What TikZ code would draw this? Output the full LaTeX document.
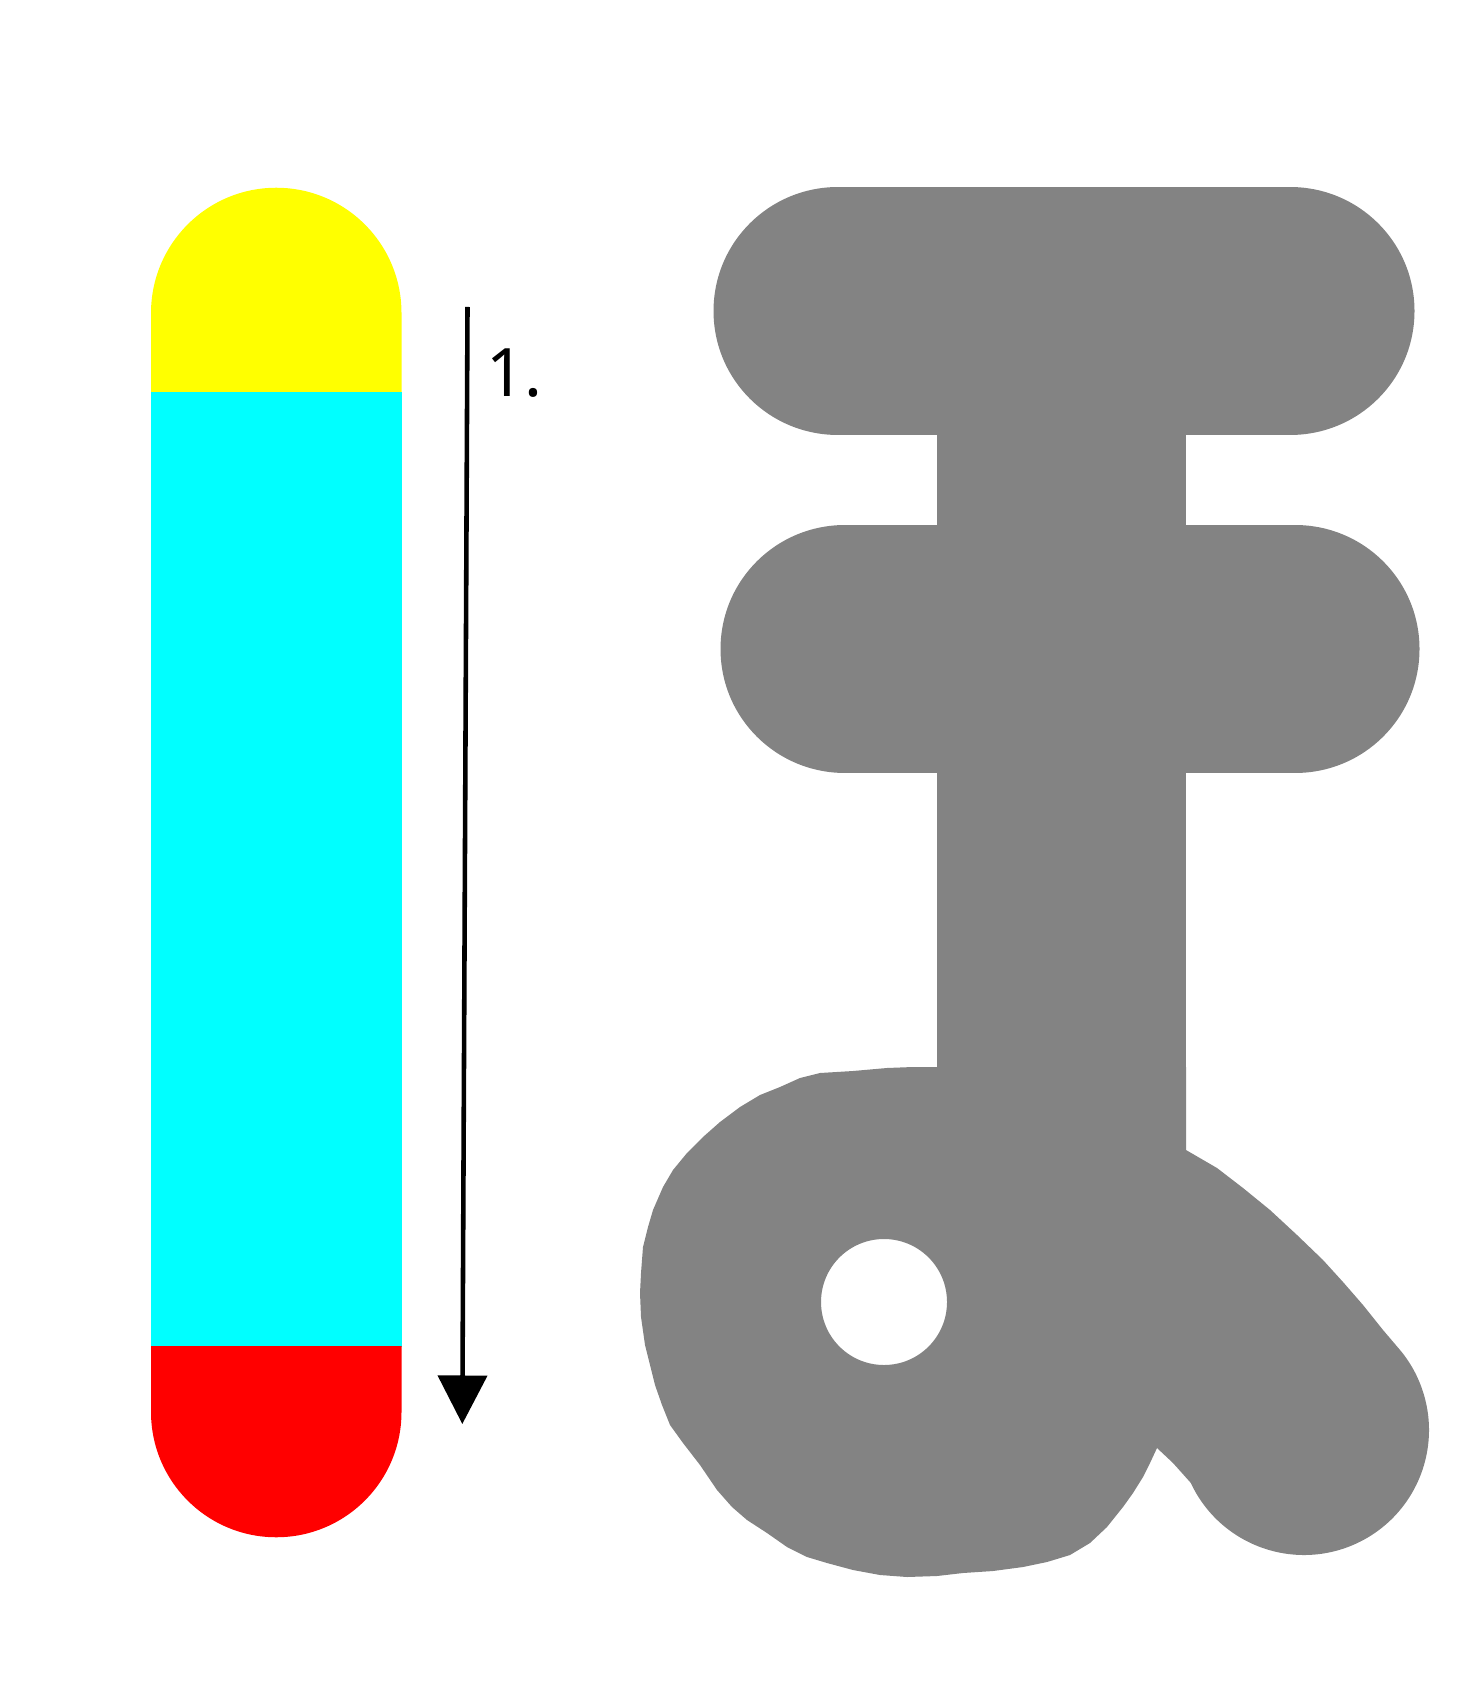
\documentclass[tikz,border=0pt]{standalone}
\usepackage{fontspec}
\usepackage{tikz}
\usetikzlibrary{arrows.meta, positioning}
\newfontfamily\labelfont{Noto Sans}
\definecolor{inkgray}{RGB}{131,131,131}
\definecolor{capyellow}{RGB}{255,255,0}
\definecolor{barcyan}{RGB}{0,255,255}
\definecolor{capred}{RGB}{255,0,0}

\begin{document}
\begin{tikzpicture}[
    x=0.01cm, y=-0.01cm,
    penline/.style={draw=inkgray, line width=70.8pt},
    inkfill/.style={fill=inkgray, even odd rule},
    orderarrow/.style={-{Triangle[length=13.8pt, width=13.9pt]}, line width=1.3pt, black},
    ordernum/.style={font=\labelfont\fontsize{19pt}{22pt}\selectfont, anchor=base west, inner sep=0pt},
]
  \useasboundingbox (0,0) rectangle (1474,1701);

  % Left: stroke guide bar
  \fill[capyellow] (151,393) -- (151,313) arc[start angle=180, end angle=360, radius=125.25] -- (401.5,393) -- cycle;
  \fill[barcyan] (151,392) rectangle (401.5,1347);
  \fill[capred] (151,1346) -- (151,1412) arc[start angle=180, end angle=0, radius=125.25] -- (401.5,1346) -- cycle;

  % Stroke direction
  \coordinate (start) at (467.5,307);
  \coordinate (tip) at (462.3,1424);
  \draw[orderarrow] (start) -- (tip);
  \node[ordernum] (num) at (486,397) {1.};

  % Right: character strokes
  \draw[penline, line cap=round] (838,311) -- (1290,311);
  \draw[penline, line cap=round] (845,649) -- (1295,649);
  \draw[penline, line cap=butt] (1061,311) -- (1061,1150);
  \path[inkfill] (936,1067) -- (913,1067) -- (887,1068) -- (853,1071) -- (820,1073) -- (800,1078)
    -- (780,1087) -- (760,1095) -- (740,1107) -- (720,1122) -- (703,1137) -- (687,1153)
    -- (673,1170) -- (663,1187) -- (653,1210) -- (648,1227) -- (643,1247) -- (641,1273)
    -- (640,1293) -- (641,1317) -- (645,1345) -- (650,1365) -- (655,1385) -- (662,1405)
    -- (670,1425) -- (683,1443) -- (700,1465) -- (717,1490) -- (732,1507) -- (747,1520)
    -- (767,1533) -- (787,1547) -- (807,1557) -- (827,1563) -- (853,1570) -- (880,1575)
    -- (907,1577) -- (937,1576) -- (963,1573) -- (993,1571) -- (1023,1567) -- (1047,1562)
    -- (1070,1555) -- (1090,1543) -- (1107,1527) -- (1123,1507) -- (1133,1493) -- (1143,1477)
    -- (1150,1463) -- (1157,1448) -- (1173,1463) -- (1190.7,1482.8)
    arc[start angle=155, end angle=-39, radius=125]
    -- (1383,1330) -- (1363,1305) -- (1343,1282) -- (1323,1260) -- (1297,1235) -- (1270,1210)
    -- (1243,1188) -- (1217,1168) -- (1186,1150) -- (1186,1067) -- cycle
    (884,1302) circle[radius=63];
\end{tikzpicture}
\end{document}
